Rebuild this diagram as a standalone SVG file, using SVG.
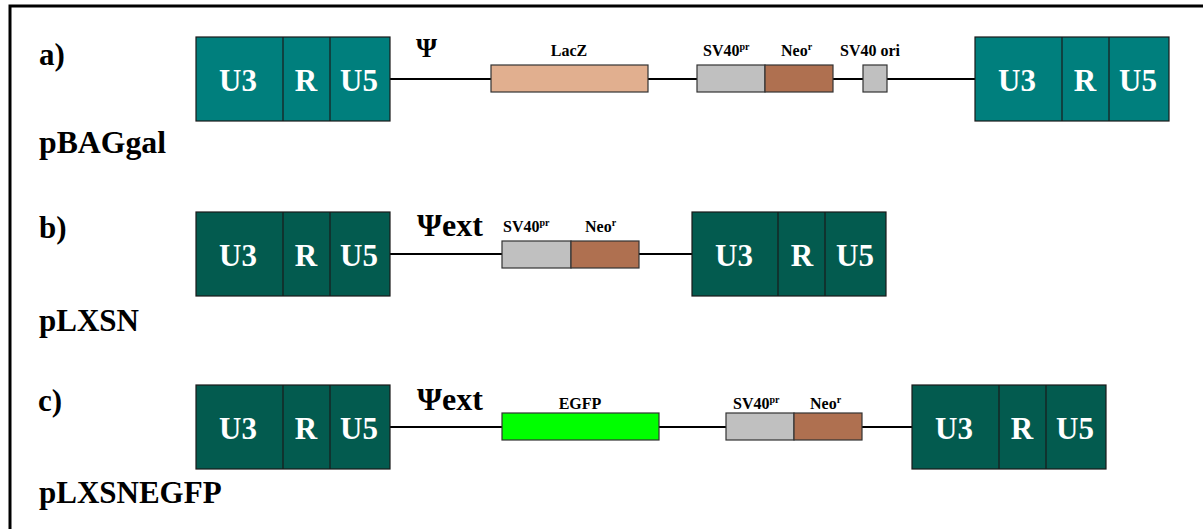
<svg xmlns="http://www.w3.org/2000/svg" width="1203" height="529" viewBox="0 0 1203 529">
  <style>
    .frame { stroke: #000; stroke-width: 3; fill: none; }
    .bb { stroke: #000; stroke-width: 2; }
    .ltrA { fill: #007F7D; stroke: #1a1a1a; stroke-width: 1.2; }
    .ltrB { fill: #035B4F; stroke: #1a1a1a; stroke-width: 1.2; }
    .seg { stroke: #1a1a1a; stroke-width: 1.2; }
    text { font-family: "Liberation Serif", "Times New Roman", "DejaVu Serif", serif; font-weight: 700; }
    .lt { fill: #fff; font-size: 31px; text-anchor: middle; }
    .lbl { fill: #000; }
    .big { font-size: 31px; }
    .gene { font-size: 16px; }
    .sup { font-size: 10px; }
    .psi { font-size: 32px; }
    .box { stroke: #333; stroke-width: 1.2; }
    .lacz { fill: #E1AF8F; }
    .sv { fill: #C0C0C0; }
    .neo { fill: #AF7050; }
    .egfp { fill: #00FF00; }
  </style>
  <defs>
    <g id="ltrText">
      <text class="lt" x="238" y="0">U3</text>
      <text class="lt" x="306" y="0">R</text>
      <text class="lt" x="359" y="0">U5</text>
    </g>
  </defs>

  <rect width="1203" height="529" fill="#fff"/>
  <!-- outer frame (top and left edges) -->
  <path class="frame" d="M10,529 V6 H1203"/>

  <!-- backbone lines -->
  <g id="connectors">
    <line class="bb" x1="390" y1="79" x2="975" y2="79"/>
    <line class="bb" x1="390" y1="254" x2="692" y2="254"/>
    <line class="bb" x1="390" y1="427" x2="912" y2="427"/>
  </g>

  <!-- row a: pBAGgal -->
  <g id="row-a">
    <text class="lbl big" x="39" y="65">a)</text>
    <text class="lbl big" x="39" y="153" textLength="127" lengthAdjust="spacingAndGlyphs">pBAGgal</text>
    <g id="a-ltr5">
      <rect class="ltrA" x="196" y="37" width="194" height="84"/>
      <line class="seg" x1="283" y1="37" x2="283" y2="121"/>
      <line class="seg" x1="330" y1="37" x2="330" y2="121"/>
      <use href="#ltrText" y="91"/>
    </g>
    <text class="lbl" x="416" y="57" font-size="27">Ψ</text>
    <g id="a-lacz">
      <rect class="box lacz" x="491" y="65" width="157" height="27"/>
      <text class="lbl gene" x="569" y="56" text-anchor="middle">LacZ</text>
    </g>
    <g id="a-neo">
      <rect class="box sv" x="697" y="65" width="68" height="27"/>
      <rect class="box neo" x="765" y="65" width="68" height="27"/>
      <text class="lbl gene" x="703" y="56">SV40<tspan class="sup" dy="-6">pr</tspan></text>
      <text class="lbl gene" x="781" y="56">Neo<tspan class="sup" dy="-6">r</tspan></text>
    </g>
    <g id="a-ori">
      <rect class="box sv" x="863" y="65" width="24" height="27"/>
      <text class="lbl gene" x="840" y="56">SV40 ori</text>
    </g>
    <g id="a-ltr3">
      <rect class="ltrA" x="975" y="37" width="194" height="84"/>
      <line class="seg" x1="1062" y1="37" x2="1062" y2="121"/>
      <line class="seg" x1="1109" y1="37" x2="1109" y2="121"/>
      <use href="#ltrText" x="779" y="91"/>
    </g>
  </g>

  <!-- row b: pLXSN -->
  <g id="row-b">
    <text class="lbl big" x="39" y="238">b)</text>
    <text class="lbl big" x="39" y="331">pLXSN</text>
    <g id="b-ltr5">
      <rect class="ltrB" x="196" y="212" width="194" height="84"/>
      <line class="seg" x1="283" y1="212" x2="283" y2="296"/>
      <line class="seg" x1="330" y1="212" x2="330" y2="296"/>
      <use href="#ltrText" y="266"/>
    </g>
    <text class="lbl psi" x="417" y="236">Ψext</text>
    <g id="b-neo">
      <rect class="box sv" x="502" y="241" width="69" height="27"/>
      <rect class="box neo" x="571" y="241" width="68" height="27"/>
      <text class="lbl gene" x="503" y="232">SV40<tspan class="sup" dy="-6">pr</tspan></text>
      <text class="lbl gene" x="585" y="232">Neo<tspan class="sup" dy="-6">r</tspan></text>
    </g>
    <g id="b-ltr3">
      <rect class="ltrB" x="692" y="212" width="194" height="84"/>
      <line class="seg" x1="778" y1="212" x2="778" y2="296"/>
      <line class="seg" x1="825" y1="212" x2="825" y2="296"/>
      <use href="#ltrText" x="496" y="266"/>
    </g>
  </g>

  <!-- row c: pLXSNEGFP -->
  <g id="row-c">
    <text class="lbl big" x="38" y="411">c)</text>
    <text class="lbl big" x="39" y="503">pLXSNEGFP</text>
    <g id="c-ltr5">
      <rect class="ltrB" x="196" y="385" width="194" height="84"/>
      <line class="seg" x1="283" y1="385" x2="283" y2="469"/>
      <line class="seg" x1="330" y1="385" x2="330" y2="469"/>
      <use href="#ltrText" y="439"/>
    </g>
    <text class="lbl psi" x="417" y="410">Ψext</text>
    <g id="c-egfp">
      <rect class="box egfp" x="502" y="413" width="157" height="27"/>
      <text class="lbl gene" x="580" y="409" text-anchor="middle">EGFP</text>
    </g>
    <g id="c-neo">
      <rect class="box sv" x="726" y="413" width="68" height="27"/>
      <rect class="box neo" x="794" y="413" width="68" height="27"/>
      <text class="lbl gene" x="733" y="409">SV40<tspan class="sup" dy="-6">pr</tspan></text>
      <text class="lbl gene" x="810" y="409">Neo<tspan class="sup" dy="-6">r</tspan></text>
    </g>
    <g id="c-ltr3">
      <rect class="ltrB" x="912" y="385" width="194" height="84"/>
      <line class="seg" x1="999" y1="385" x2="999" y2="469"/>
      <line class="seg" x1="1046" y1="385" x2="1046" y2="469"/>
      <use href="#ltrText" x="716" y="439"/>
    </g>
  </g>
</svg>
